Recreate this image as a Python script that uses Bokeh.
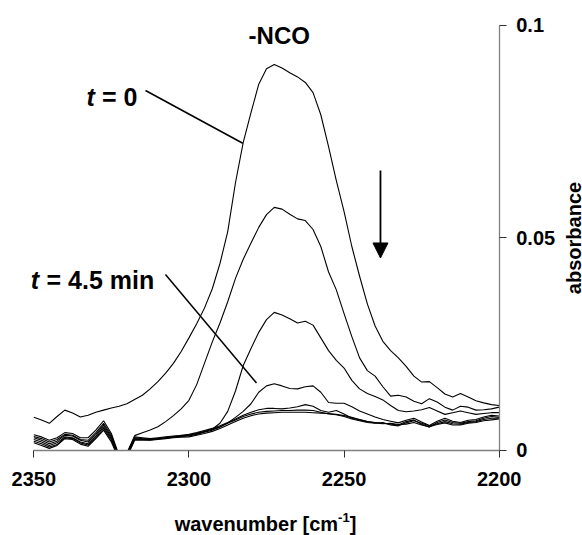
import math
from bokeh.plotting import figure
from bokeh.models import Range1d, FixedTicker, Label, Arrow, NormalHead, NumeralTickFormatter
from bokeh.embed import file_html
from bokeh.resources import INLINE

# ---------------- data ----------------
wavenumber = [2350, 2347.5, 2345, 2342.5, 2340, 2337.5, 2335, 2332.5, 2330, 2327.5,
              2325, 2322.5, 2320, 2317.5, 2315, 2312.5, 2310, 2307.5, 2305, 2302.5,
              2300, 2297.5, 2295, 2292.5, 2290, 2287.5, 2285, 2282.5, 2280, 2277.5,
              2275, 2272.5, 2270, 2267.5, 2265, 2262.5, 2260, 2257.5, 2255, 2252.5,
              2250, 2247.5, 2245, 2242.5, 2240, 2237.5, 2235, 2232.5, 2230, 2227.5,
              2225, 2222.5, 2220, 2217.5, 2215, 2212.5, 2210, 2207.5, 2205, 2202.5, 2200]

abs_t0 = [0.0078, 0.0072, 0.0064, 0.0080, 0.0095, 0.0088, 0.0079, 0.0083, 0.0090, 0.0095,
          0.0100, 0.0104, 0.0110, 0.0120, 0.0130, 0.0145, 0.0162, 0.0182, 0.0205, 0.0233,
          0.0265, 0.0298, 0.0335, 0.0380, 0.0440, 0.0515, 0.0630, 0.0725, 0.0795, 0.0862,
          0.0898, 0.0908, 0.0900, 0.0889, 0.0879, 0.0866, 0.0842, 0.0790, 0.0715, 0.0635,
          0.0562, 0.0480, 0.0410, 0.0345, 0.0293, 0.0257, 0.0235, 0.0218, 0.0198, 0.0175,
          0.0161, 0.0162, 0.0148, 0.0133, 0.0126, 0.0134, 0.0126, 0.0117, 0.0112, 0.0108, 0.0106]

abs_t1 = [0.0037, 0.0032, 0.0024, 0.0030, 0.0042, 0.0040, 0.0030, 0.0030, 0.0048, 0.0070,
          0.0040, -0.0012, -0.0006, 0.0035, 0.0042, 0.0048, 0.0056, 0.0068, 0.0082, 0.0098,
          0.0118, 0.0155, 0.0205, 0.0255, 0.0300, 0.0350, 0.0405, 0.0450, 0.0488, 0.0525,
          0.0555, 0.0572, 0.0568, 0.0556, 0.0545, 0.0541, 0.0520, 0.0480, 0.0420, 0.0378,
          0.0322, 0.0268, 0.0218, 0.0188, 0.0175, 0.0150, 0.0128, 0.0130, 0.0126, 0.0116,
          0.0110, 0.0122, 0.0114, 0.0102, 0.0095, 0.0104, 0.0102, 0.0095, 0.0096, 0.0098, 0.0102]

abs_t2 = [0.0033, 0.0028, 0.0020, 0.0026, 0.0038, 0.0036, 0.0026, 0.0024, 0.0042, 0.0064,
          0.0036, -0.0014, -0.0008, 0.0032, 0.0030, 0.0028, 0.0030, 0.0032, 0.0034, 0.0035,
          0.0036, 0.0040, 0.0044, 0.0050, 0.0064, 0.0092, 0.0140, 0.0200, 0.0240, 0.0278,
          0.0308, 0.0325, 0.0319, 0.0310, 0.0300, 0.0304, 0.0295, 0.0265, 0.0235, 0.0212,
          0.0194, 0.0165, 0.0145, 0.0134, 0.0127, 0.0119, 0.0106, 0.0094, 0.0091, 0.0093,
          0.0096, 0.0101, 0.0093, 0.0085, 0.0089, 0.0093, 0.0089, 0.0085, 0.0087, 0.0089, 0.0089]

abs_t45 = [0.0030, 0.0024, 0.0016, 0.0022, 0.0036, 0.0034, 0.0024, 0.0020, 0.0038, 0.0060,
           0.0032, -0.0016, -0.0010, 0.0030, 0.0028, 0.0027, 0.0028, 0.0030, 0.0032, 0.0034,
           0.0036, 0.0040, 0.0045, 0.0050, 0.0056, 0.0065, 0.0078, 0.0092, 0.0110, 0.0137,
           0.0152, 0.0157, 0.0152, 0.0146, 0.0145, 0.0150, 0.0152, 0.0137, 0.0113, 0.0111,
           0.0111, 0.0103, 0.0093, 0.0086, 0.0079, 0.0073, 0.0069, 0.0065, 0.0071, 0.0076,
           0.0067, 0.0059, 0.0069, 0.0076, 0.0069, 0.0066, 0.0071, 0.0073, 0.0079, 0.0083, 0.0081]

abs_t5 = [0.0026, 0.0020, 0.0012, 0.0018, 0.0032, 0.0030, 0.0020, 0.0016, 0.0034, 0.0056,
          0.0028, -0.0018, -0.0012, 0.0028, 0.0027, 0.0026, 0.0028, 0.0030, 0.0033, 0.0036,
          0.0038, 0.0042, 0.0047, 0.0052, 0.0058, 0.0066, 0.0074, 0.0083, 0.0090, 0.0096,
          0.0099, 0.0099, 0.0098, 0.0100, 0.0103, 0.0108, 0.0104, 0.0094, 0.0090, 0.0094,
          0.0086, 0.0076, 0.0072, 0.0068, 0.0066, 0.0064, 0.0062, 0.0060, 0.0068, 0.0072,
          0.0062, 0.0055, 0.0066, 0.0072, 0.0066, 0.0064, 0.0068, 0.0070, 0.0076, 0.0080, 0.0078]

abs_t6 = [0.0022, 0.0016, 0.0008, 0.0014, 0.0030, 0.0028, 0.0018, 0.0013, 0.0030, 0.0052,
          0.0024, -0.0020, -0.0014, 0.0026, 0.0026, 0.0025, 0.0027, 0.0029, 0.0031, 0.0033,
          0.0034, 0.0038, 0.0043, 0.0048, 0.0055, 0.0064, 0.0072, 0.0080, 0.0086, 0.0090,
          0.0092, 0.0093, 0.0094, 0.0094, 0.0095, 0.0095, 0.0094, 0.0090, 0.0086, 0.0084,
          0.0080, 0.0074, 0.0070, 0.0066, 0.0064, 0.0066, 0.0060, 0.0058, 0.0065, 0.0070,
          0.0064, 0.0058, 0.0063, 0.0068, 0.0063, 0.0062, 0.0066, 0.0068, 0.0073, 0.0076, 0.0076]

abs_t7 = [0.0018, 0.0012, 0.0005, 0.0012, 0.0028, 0.0026, 0.0015, 0.0010, 0.0028, 0.0048,
          0.0020, -0.0022, -0.0016, 0.0024, 0.0025, 0.0024, 0.0026, 0.0028, 0.0030, 0.0031,
          0.0032, 0.0036, 0.0040, 0.0045, 0.0052, 0.0060, 0.0068, 0.0076, 0.0082, 0.0086,
          0.0088, 0.0089, 0.0090, 0.0090, 0.0090, 0.0090, 0.0089, 0.0088, 0.0087, 0.0085,
          0.0082, 0.0078, 0.0073, 0.0068, 0.0065, 0.0063, 0.0064, 0.0061, 0.0062, 0.0066,
          0.0060, 0.0056, 0.0061, 0.0065, 0.0060, 0.0060, 0.0064, 0.0066, 0.0070, 0.0072, 0.0074]

series = [abs_t0, abs_t1, abs_t2, abs_t45, abs_t5, abs_t6, abs_t7]

x_ticks = [2350, 2300, 2250, 2200]
y_ticks = [0, 0.05, 0.1]
x_bounds = (2200, 2350)
y_bounds = (0, 0.1)

# view window around the axes (the axes are drawn at fixed locations inside it)
view_x = (2360.73, 2173.16)
view_y = (-0.02, 0.105882)

# annotation anchors (data coordinates)
title_text = "-NCO"
title_pos = (2270.9, 0.0976)
t0_pos = (2333.0, 0.0831)
t0_rest_x = 2328.0
t0_leader = ([2314.0, 2282.65], [0.0847, 0.0723])
t45_pos = (2351.0, 0.0402)
t45_rest_x = 2345.9
t45_leader = ([2307.56, 2278.23], [0.0414, 0.0159])
arrow_x = 2238.27
arrow_y = (0.0659, 0.0453)
xlabel_parts = [("wavenumber [cm", 2304.59, -0.01725, "20px"),
                ("-1", 2251.93, -0.01576, "13px"),
                ("]", 2248.2, -0.01725, "20px")]
ylabel = ("absorbance", 2175.75, 0.05)

FONT = "Liberation Sans"

p = figure(width=582, height=535,
           min_border=0, min_border_left=0, min_border_right=0,
           min_border_top=0, min_border_bottom=0,
           x_range=Range1d(*view_x), y_range=Range1d(*view_y),
           y_axis_location="right", output_backend="svg", toolbar_location=None,
           title=None, background_fill_color="white", border_fill_color="white",
           outline_line_color=None)
p.xgrid.visible = False
p.ygrid.visible = False

xa = p.xaxis[0]
ya = p.yaxis[0]
xa.fixed_location = 0
ya.fixed_location = 2200
xa.bounds = x_bounds
ya.bounds = y_bounds
xa.ticker = FixedTicker(ticks=x_ticks)
ya.ticker = FixedTicker(ticks=y_ticks)
ya.formatter = NumeralTickFormatter(format="0.[00]")
for ax in (xa, ya):
    ax.axis_line_color = "#808080"
    ax.axis_line_width = 1.3
    ax.major_tick_line_color = "#303030"
    ax.major_tick_line_width = 1
    ax.major_tick_out = 7
    ax.major_tick_in = 0
    ax.minor_tick_line_color = None
    ax.major_label_text_font = FONT
    ax.major_label_text_font_style = "bold"
    ax.major_label_text_font_size = "20px"
    ax.major_label_text_color = "black"
xa.major_label_standoff = 15
ya.major_label_standoff = 10

for s in series:
    p.line(wavenumber, s, line_color="black", line_width=1.1)

# white mask below zero: the spectra are cut at the x axis, as in the original
p.quad(left=view_x[0], right=view_x[1], bottom=view_y[0], top=0,
       fill_color="white", line_color=None)

# leader lines
p.line(t0_leader[0], t0_leader[1], line_color="black", line_width=1.5)
p.line(t45_leader[0], t45_leader[1], line_color="black", line_width=1.5)

# arrow
p.add_layout(Arrow(end=NormalHead(size=15, fill_color="black", line_color="black", line_width=1),
                   x_start=arrow_x, y_start=arrow_y[0], x_end=arrow_x, y_end=arrow_y[1],
                   line_color="black", line_width=1.8))

def lab(x, y, text, size, style="bold", align="left", angle=0.0, baseline="alphabetic"):
    p.add_layout(Label(x=x, y=y, text=text, text_font=FONT, text_font_size=size,
                       text_font_style=style, text_align=align, text_baseline=baseline,
                       text_color="black", angle=angle))

lab(title_pos[0], title_pos[1], title_text, "24px", align="center")
lab(t0_pos[0], t0_pos[1], "t", "25px", style="bold italic")
lab(t0_rest_x, t0_pos[1], "= 0", "25px")
lab(t45_pos[0], t45_pos[1], "t", "25px", style="bold italic")
lab(t45_rest_x, t45_pos[1], "= 4.5 min", "25px")
for txt, lx, ly, sz in xlabel_parts:
    lab(lx, ly, txt, sz)
lab(ylabel[1], ylabel[2], ylabel[0], "20px", align="center", angle=math.pi / 2,
    baseline="middle")

open("out.html", "w").write(file_html(p, INLINE))
